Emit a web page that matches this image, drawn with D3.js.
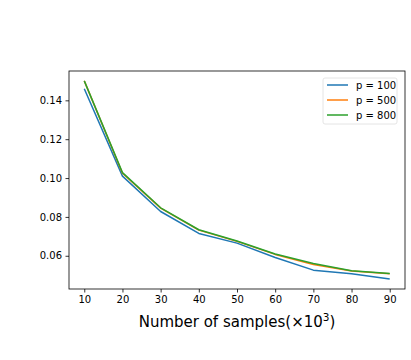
<!DOCTYPE html>
<html>
<head>
<meta charset="utf-8">
<script src="https://cdn.jsdelivr.net/npm/d3@7"></script>
<style>
  body { margin: 0; background: #fff; }
  text { font-family: "DejaVu Sans", sans-serif; fill: #000; }
</style>
</head>
<body>
<svg id="chart" width="411" height="360"></svg>
<script>
// Data
const samples = [10, 20, 30, 40, 50, 60, 70, 80, 90]
const p100 = [0.146, 0.101, 0.0828, 0.0715, 0.0665, 0.0591, 0.0526, 0.0508, 0.048]
const p500 = [0.150, 0.1025, 0.0845, 0.0732, 0.0674, 0.0607, 0.0555, 0.0522, 0.0507]
const p800 = [0.150, 0.1028, 0.0847, 0.0734, 0.0676, 0.0609, 0.0560, 0.0523, 0.0509]
const seriesNames = ["p = 100", "p = 500", "p = 800"]
const seriesColors = ["#1f77b4", "#ff7f0e", "#2ca02c"]
const xTicks = [10, 20, 30, 40, 50, 60, 70, 80, 90]
const yTicks = [0.06, 0.08, 0.10, 0.12, 0.14]

const svg = d3.select("#chart")
const margin = { left: 69, right: 6, top: 71, bottom: 71 }
const width = 411 - margin.left - margin.right
const height = 360 - margin.top - margin.bottom

const series = [p100, p500, p800]
const allVals = series.flat()
const yMin = d3.min(allVals), yMax = d3.max(allVals)
const yPad = (yMax - yMin) * 0.05

const x = d3.scaleLinear().domain([6, 94]).range([0, width])
const y = d3.scaleLinear().domain([yMin - yPad, yMax + yPad]).range([height, 0])

const g = svg.append("g").attr("transform", `translate(${margin.left},${margin.top})`)

// Lines
const line = d3.line()
    .x((d, i) => x(samples[i]))
    .y(d => y(d))

series.forEach((s, i) => {
    g.append("path")
        .datum(s)
        .attr("fill", "none")
        .attr("stroke", seriesColors[i])
        .attr("stroke-width", 1.5)
        .attr("stroke-linejoin", "round")
        .attr("d", line)
})

// Axes
const xAxis = g.append("g")
    .attr("transform", `translate(0,${height})`)
    .call(d3.axisBottom(x).tickValues(xTicks).tickSizeOuter(0).tickSize(3.5).tickPadding(3.5))
const yAxis = g.append("g")
    .call(d3.axisLeft(y).tickValues(yTicks).tickFormat(d3.format(".2f")).tickSizeOuter(0).tickSize(3.5).tickPadding(3.5))

;[xAxis, yAxis].forEach(a => {
    a.select(".domain").remove()
    a.selectAll("text").style("font-size", "10px").style("font-family", "DejaVu Sans, sans-serif")
    a.selectAll("line").attr("stroke", "#000").attr("stroke-width", 0.8)
})

// Frame
g.append("rect")
    .attr("width", width)
    .attr("height", height)
    .attr("fill", "none")
    .attr("stroke", "#000")
    .attr("stroke-width", 0.8)

// X label
const xl = svg.append("text")
    .attr("x", margin.left + width / 2)
    .attr("y", 327)
    .attr("text-anchor", "middle")
    .style("font-size", "15px")
xl.append("tspan").text("Number of samples(×10")
xl.append("tspan").attr("dy", -6).style("font-size", "10.5px").text("3")
xl.append("tspan").attr("dy", 6).text(")")

// Legend
const lg = g.append("g").attr("transform", `translate(${width - 82},7)`)
lg.append("rect")
    .attr("width", 74)
    .attr("height", 46)
    .attr("rx", 2)
    .attr("fill", "#fff")
    .attr("fill-opacity", 0.8)
    .attr("stroke", "#ddd")
    .attr("stroke-width", 0.8)
seriesNames.forEach((name, i) => {
    const row = lg.append("g").attr("transform", `translate(4,${7 + i * 15})`)
    row.append("line")
        .attr("x1", 0).attr("x2", 21)
        .attr("stroke", seriesColors[i])
        .attr("stroke-width", 1.5)
    row.append("text")
        .attr("x", 29)
        .attr("dy", "0.35em")
        .style("font-size", "10px")
        .text(name)
})
</script>
</body>
</html>
